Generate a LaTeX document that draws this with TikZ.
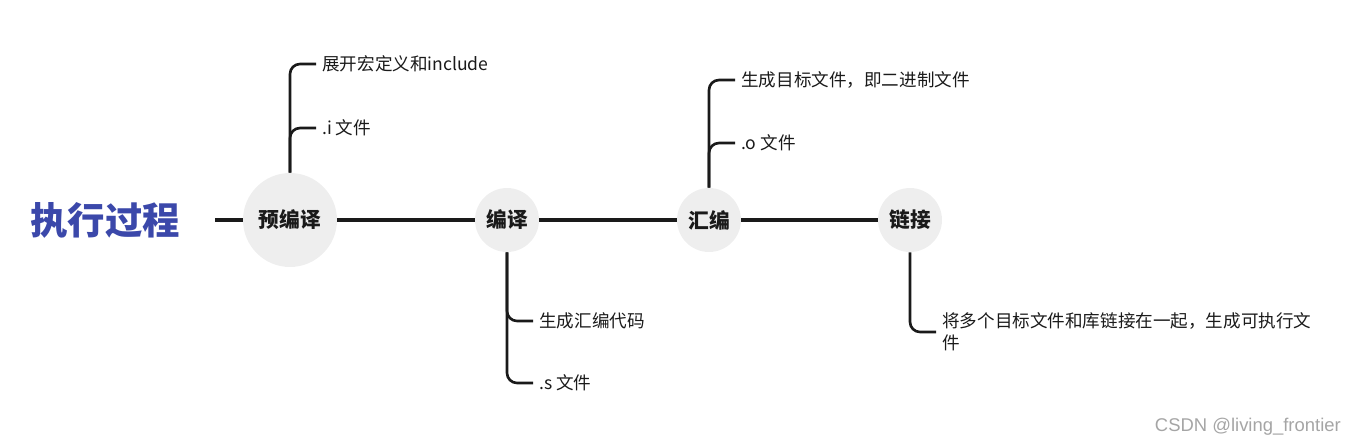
\documentclass[tikz,border=0pt]{standalone}
\usepackage{fontspec}
\setmainfont{Noto Sans CJK SC}
\newfontfamily\markfont{Liberation Sans}
\usepackage{xcolor}
\usetikzlibrary{positioning}
\definecolor{procBlue}{RGB}{59,72,170}
\definecolor{procGray}{RGB}{238,238,238}
\definecolor{procInk}{RGB}{26,26,26}
\definecolor{procMark}{RGB}{165,165,165}

\begin{document}
\begin{tikzpicture}[x=0.02cm,y=-0.02cm,
    stage/.style={circle, fill=procGray, minimum size=1.28cm, inner sep=0pt,
        text=procInk, font=\fontsize{11.8}{14}\selectfont\bfseries},
    leaf/.style={anchor=west, inner xsep=3.4pt, inner ysep=1pt, text=procInk,
        align=left, font=\fontsize{10}{12.5}\selectfont},
    spine/.style={procInk, line width=2.2pt},
    twig/.style={procInk, line width=1.5pt, rounded corners=0.2cm}]

    \useasboundingbox (0,0) rectangle (1360,447);

    % title and stages
    \node[text=procBlue, font=\fontsize{21.3}{24}\selectfont\bfseries] (title) at (105,220) {执行过程};
    \coordinate (start) at (215,220);
    \node[stage, minimum size=1.88cm] (pre) at (290,220) {预编译};
    \node[stage] (comp) at (507,220) {编译};
    \node[stage] (asm) at (709,220) {汇编};
    \node[stage] (link) at (910,220) {链接};

    % main line
    \draw[spine] (start) -- (pre);
    \draw[spine] (pre) -- (comp);
    \draw[spine] (comp) -- (asm);
    \draw[spine] (asm) -- (link);

    % preprocessing
    \node[leaf] (pre1) at (316,64) {展开宏定义和include};
    \node[leaf] (pre2) at (316,128) {.i 文件};
    \draw[twig] (pre.north) |- (pre1.west);
    \draw[twig] (pre.north) |- (pre2.west);

    % compiling
    \node[leaf] (comp1) at (533,321) {生成汇编代码};
    \node[leaf] (comp2) at (533,383) {.s 文件};
    \draw[twig] (comp.south) |- (comp1.west);
    \draw[twig] (comp.south) |- (comp2.west);

    % assembling
    \node[leaf] (asm1) at (735,80) {生成目标文件，即二进制文件};
    \node[leaf] (asm2) at (735,143) {.o 文件};
    \draw[twig] (asm.north) |- (asm1.west);
    \draw[twig] (asm.north) |- (asm2.west);

    % linking
    \node[leaf] (link1) at (936,332) {将多个目标文件和库链接在一起，生成可执行文\\件};
    \draw[twig] (link.south) |- (link1.west);

    % watermark
    \node[anchor=east, text=procMark, font=\markfont\fontsize{10.5}{12}\selectfont] (mark) at (1347,427) {CSDN @living\_frontier};

\end{tikzpicture}
\end{document}
